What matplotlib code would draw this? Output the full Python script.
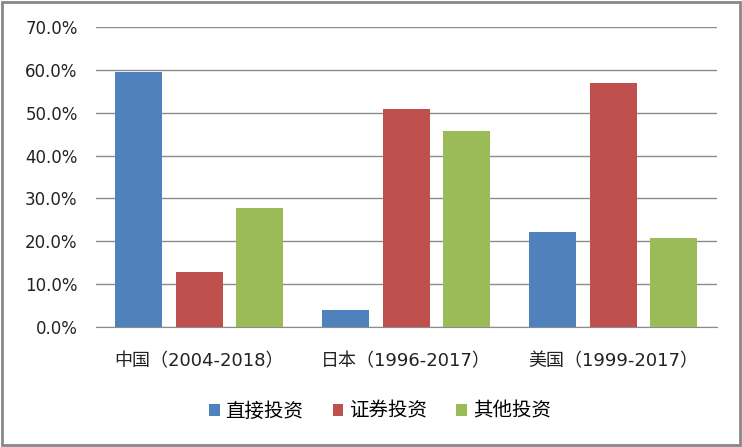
import matplotlib.pyplot as plt
import numpy as np
from matplotlib.patches import Rectangle

plt.rcParams['font.family'] = ['DejaVu Sans', 'Noto Sans CJK SC']

regions = ['中国（2004-2018）', '日本（1996-2017）', '美国（1999-2017）']
direct = [59.5, 4.0, 22.2]      # 直接投资
portfolio = [12.8, 50.9, 56.9]  # 证券投资
other = [27.8, 45.7, 20.8]      # 其他投资
series_names = ['直接投资', '证券投资', '其他投资']
colors = ['#4f81bd', '#c0504d', '#9bbb59']

fig = plt.figure(figsize=(7.42, 4.47), dpi=100)
ax = fig.add_axes([0.129, 0.268, 0.837, 0.672])

x = np.arange(len(regions))
w = 0.227
off = 0.293
for i, (vals, name) in enumerate(zip([direct, portfolio, other], series_names)):
    ax.bar(x + (i - 1) * off, vals, w, color=colors[i], label=name, zorder=3)

ax.set_xlim(-0.5, 2.5)
ax.set_ylim(0, 70)
ax.set_yticks(range(0, 71, 10))
ax.set_yticklabels(['%.1f%%' % v for v in range(0, 71, 10)], fontsize=12, color='#222222')
ax.set_xticks(x)
ax.set_xticklabels(regions, fontsize=13, color='#222222')
ax.tick_params(axis='both', length=0)
ax.tick_params(axis='y', pad=13)
ax.tick_params(axis='x', pad=18)
ax.yaxis.grid(True, color='#8c8c8c', linewidth=1, zorder=0)
for s in ['top', 'right', 'left']:
    ax.spines[s].set_visible(False)
ax.spines['bottom'].set_color('#8c8c8c')

fig.legend(loc='center', bbox_to_anchor=(0.512, 0.08), ncol=3, frameon=False,
           fontsize=14, handlelength=0.55, handleheight=0.55, handletextpad=0.3,
           columnspacing=1.5)

fig.patches.append(Rectangle((0.003, 0.005), 0.994, 0.99, transform=fig.transFigure,
                             fill=False, edgecolor='#888888', linewidth=2))

fig.savefig('out.png', dpi=100)
